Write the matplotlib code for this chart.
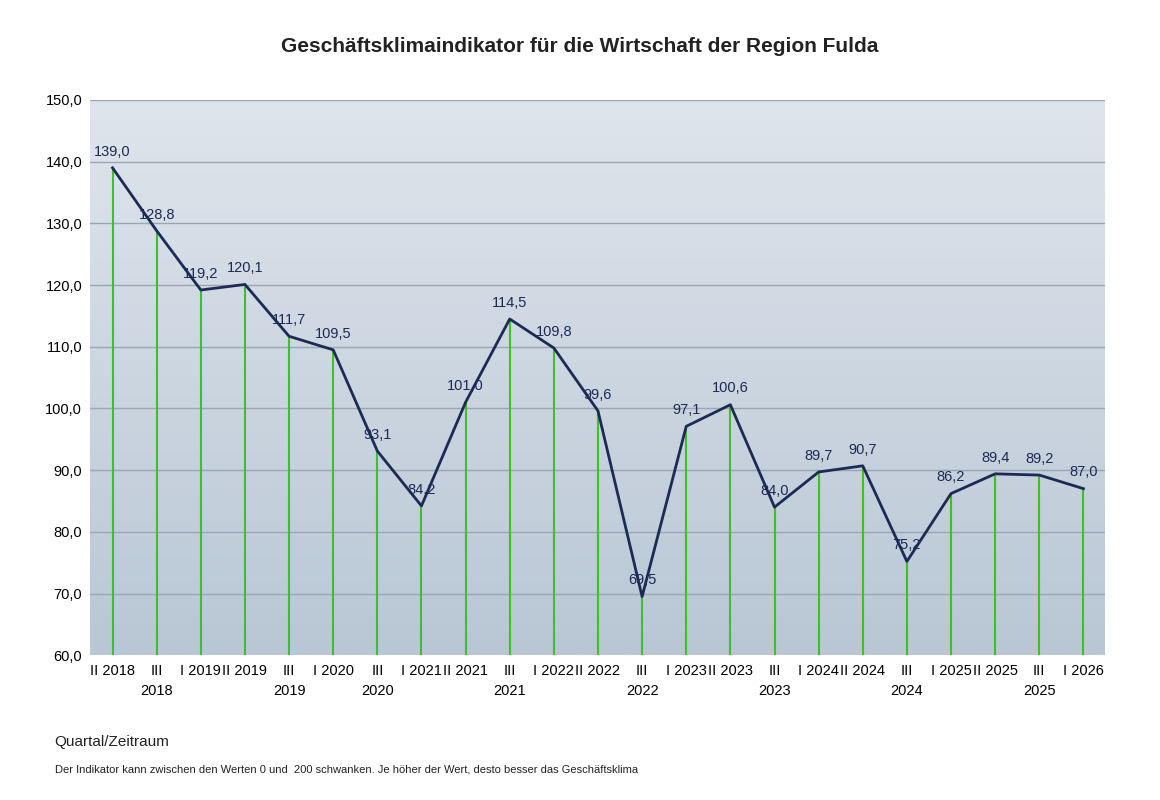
import numpy as np
import matplotlib.pyplot as plt

labels = ["II 2018", "III\n2018", "I 2019", "II 2019", "III\n2019", "I 2020", "III\n2020",
          "I 2021", "II 2021", "III\n2021", "I 2022", "II 2022", "III\n2022", "I 2023",
          "II 2023", "III\n2023", "I 2024", "II 2024", "III\n2024", "I 2025", "II 2025",
          "III\n2025", "I 2026"]
values = [139.0, 128.8, 119.2, 120.1, 111.7, 109.5, 93.1, 84.2, 101.0, 114.5, 109.8, 99.6,
          69.5, 97.1, 100.6, 84.0, 89.7, 90.7, 75.2, 86.2, 89.4, 89.2, 87.0]

plt.rcParams['font.family'] = ['Liberation Sans', 'DejaVu Sans']
fig = plt.figure(figsize=(11.6, 8), dpi=100)
ax = fig.add_axes([0.078, 0.181, 0.875, 0.694])

x = np.arange(len(values))
ax.set_xlim(-0.5, len(values) - 0.5)
ax.set_ylim(60, 150)

# background gradient
grad = np.linspace(0, 1, 256).reshape(-1, 1)
from matplotlib.colors import LinearSegmentedColormap
cmap = LinearSegmentedColormap.from_list("bg", ["#b9c7d5", "#dfe5ec"])
ax.imshow(grad, aspect='auto', cmap=cmap, origin='lower',
          extent=[-0.5, len(values) - 0.5, 60, 150], zorder=0)

for y in range(70, 151, 10):
    ax.axhline(y, color='#9aa6b2', lw=1, zorder=1)

ax.vlines(x, 60, values, color='#3fbf2a', lw=1.5, zorder=2)
ax.plot(x, values, color='#1c2a55', lw=2, zorder=3)

for xi, v in zip(x, values):
    ax.text(xi, v + 1.5, f"{v:.1f}".replace('.', ','), ha='center', va='bottom',
            fontsize=10.5, color='#1c2a55', zorder=4)

ax.set_xticks(x)
ax.set_xticklabels(labels, fontsize=10.5, linespacing=1.6, va='top')
ax.set_yticks(range(60, 151, 10))
ax.set_yticklabels([f"{y},0" for y in range(60, 151, 10)], fontsize=10.5)
ax.tick_params(length=0, pad=6)
for s in ax.spines.values():
    s.set_visible(False)

fig.text(0.5, 0.935, "Geschäftsklimaindikator für die Wirtschaft der Region Fulda",
         ha='center', fontsize=15, fontweight='bold', color='#222222')
fig.text(0.047, 0.068, "Quartal/Zeitraum", fontsize=11, color='#222222')
fig.text(0.047, 0.035, "Der Indikator kann zwischen den Werten 0 und  200 schwanken. Je höher der Wert, desto besser das Geschäftsklima",
         fontsize=8, color='#222222')

fig.savefig("out.png", dpi=100)
